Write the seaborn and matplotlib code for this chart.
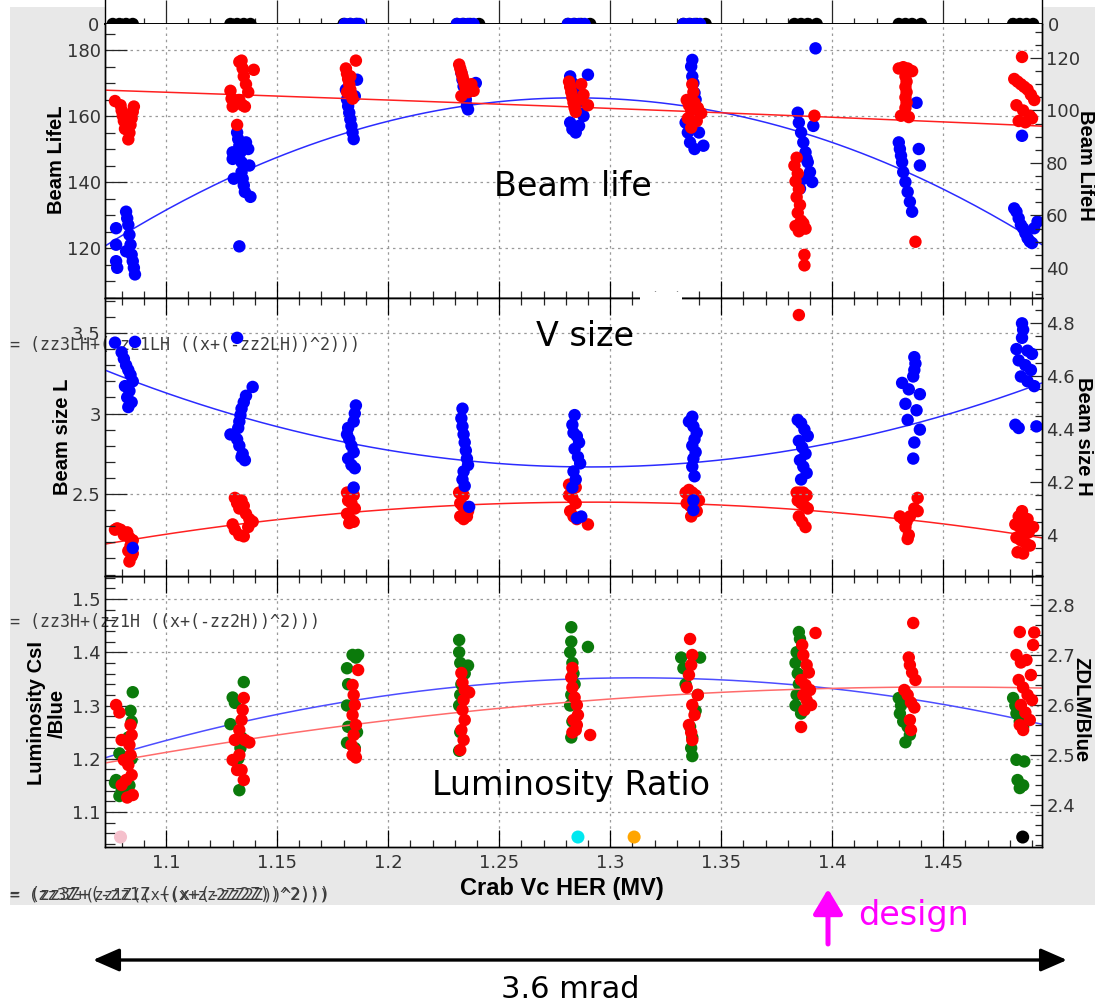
import numpy as np
import pandas as pd
import matplotlib
matplotlib.use("Agg")
import matplotlib.pyplot as plt
import seaborn as sns
from matplotlib.ticker import MultipleLocator, FixedLocator, FuncFormatter
from matplotlib.patches import Rectangle, FancyArrowPatch

sns.set_style("white")
plt.rcParams["font.family"] = ["DejaVu Sans"]
plt.rcParams["xtick.labelsize"] = 13
plt.rcParams["ytick.labelsize"] = 13

# ---------------------------------------------------------------- data
x_ticks = [1.10, 1.15, 1.20, 1.25, 1.30, 1.35, 1.40, 1.45]
x_range = (1.0725, 1.4945)

# entries that read back as zero (top strip)
zero_black_x = [1.0760, 1.0790, 1.0820, 1.0850, 1.1290, 1.1320, 1.1350, 1.1380,
                1.1800, 1.1830, 1.1860, 1.2310, 1.2340, 1.2370, 1.2410,
                1.2810, 1.2840, 1.2870, 1.2910, 1.3330, 1.3360, 1.3390, 1.3430,
                1.3830, 1.3860, 1.3890, 1.3930, 1.4300, 1.4330, 1.4360, 1.4400,
                1.4815, 1.4845, 1.4875, 1.4905]
zero_blue_x = [1.1805, 1.1830, 1.1855, 1.1870, 1.2310, 1.2335, 1.2360, 1.2385,
               1.2810, 1.2835, 1.2860, 1.2885, 1.3330, 1.3355, 1.3380, 1.3405]

# Beam LifeL (blue, left axis)
life_L = [
    (1.0775, 126), (1.0775, 121), (1.0775, 116), (1.0780, 114), (1.0820, 131), (1.0825, 129),
    (1.0830, 127), (1.0835, 124), (1.0840, 121), (1.0845, 118), (1.0850, 116), (1.0855, 114),
    (1.0860, 112), (1.0820, 119),
    (1.1300, 149), (1.1300, 147), (1.1305, 141), (1.1320, 155), (1.1325, 153), (1.1330, 151),
    (1.1335, 149), (1.1340, 146), (1.1340, 143), (1.1345, 141), (1.1350, 139), (1.1355, 137),
    (1.1360, 152), (1.1370, 150), (1.1375, 145), (1.1330, 120.5), (1.1380, 135.5),
    (1.1860, 171), (1.1810, 168), (1.1815, 165), (1.1820, 163), (1.1825, 161), (1.1830, 159),
    (1.1835, 157), (1.1840, 155), (1.1845, 153), (1.1850, 166),
    (1.2330, 173), (1.2335, 171), (1.2340, 169), (1.2345, 167), (1.2350, 165), (1.2355, 163),
    (1.2360, 162), (1.2395, 170),
    (1.2820, 172), (1.2830, 170), (1.2840, 168), (1.2850, 166), (1.2860, 164), (1.2870, 162),
    (1.2880, 160), (1.2900, 172.5), (1.2820, 158), (1.2830, 156), (1.2845, 155), (1.2860, 157),
    (1.3370, 177), (1.3365, 175), (1.3370, 172), (1.3375, 170), (1.3380, 167), (1.3385, 165),
    (1.3390, 162), (1.3340, 158), (1.3350, 155), (1.3360, 152), (1.3380, 150), (1.3400, 155),
    (1.3420, 151),
    (1.3925, 180.5), (1.3845, 161), (1.3850, 158), (1.3860, 155), (1.3870, 152), (1.3880, 149),
    (1.3890, 146), (1.3900, 143), (1.3910, 140), (1.3855, 138), (1.3870, 141), (1.3885, 147),
    (1.3915, 157),
    (1.4380, 164), (1.4300, 152), (1.4305, 150), (1.4310, 148), (1.4315, 146), (1.4320, 143),
    (1.4330, 140), (1.4340, 137), (1.4350, 134), (1.4360, 131), (1.4390, 150), (1.4395, 145),
    (1.4855, 154), (1.4820, 132), (1.4830, 131), (1.4840, 129), (1.4850, 127), (1.4860, 126),
    (1.4870, 124.5), (1.4880, 123), (1.4890, 122), (1.4900, 121.5), (1.4910, 126), (1.4925, 128),
]

# Beam LifeH (red, right axis)
life_H = [
    (1.0770, 103.6), (1.0795, 102), (1.0855, 101.5), (1.0800, 100), (1.0850, 99.5), (1.0805, 98),
    (1.0845, 97), (1.0810, 96), (1.0840, 94.5), (1.0815, 93), (1.0835, 91.5), (1.0830, 89),
    (1.1290, 107.5), (1.1295, 104.5), (1.1300, 101.5), (1.1320, 94.5), (1.1330, 118.5),
    (1.1340, 119), (1.1345, 116), (1.1350, 113), (1.1360, 110), (1.1370, 107), (1.1395, 115.5),
    (1.1330, 104), (1.1345, 102), (1.1355, 101.5),
    (1.1855, 119), (1.1810, 116), (1.1815, 114), (1.1820, 112), (1.1825, 110), (1.1830, 108),
    (1.1835, 106), (1.1840, 104.5), (1.1815, 107), (1.1830, 113),
    (1.2320, 117.5), (1.2325, 116), (1.2330, 114.5), (1.2335, 113), (1.2340, 111.5),
    (1.2345, 110), (1.2350, 108.5), (1.2360, 107), (1.2375, 110), (1.2385, 107.5), (1.2330, 105.5),
    (1.2815, 111), (1.2820, 109), (1.2825, 107), (1.2830, 105), (1.2835, 103), (1.2840, 101),
    (1.2845, 99.5), (1.2870, 110), (1.2880, 106), (1.2900, 102), (1.2860, 104),
    (1.3370, 110), (1.3375, 107), (1.3345, 104), (1.3355, 102), (1.3365, 100), (1.3380, 103),
    (1.3395, 101), (1.3410, 99), (1.3350, 97), (1.3370, 95), (1.3390, 96), (1.3365, 93.5),
    (1.3920, 98), (1.3840, 82), (1.3830, 79), (1.3845, 76), (1.3835, 73), (1.3850, 70),
    (1.3840, 67), (1.3855, 64), (1.3845, 61), (1.3860, 58), (1.3835, 56), (1.3850, 54),
    (1.3870, 57), (1.3880, 55), (1.3875, 45), (1.3875, 41),
    (1.4300, 116), (1.4320, 116.5), (1.4340, 116), (1.4360, 115), (1.4330, 113), (1.4335, 111),
    (1.4330, 109), (1.4335, 107), (1.4330, 105), (1.4335, 103), (1.4330, 101), (1.4310, 98),
    (1.4345, 97.5), (1.4375, 50),
    (1.4855, 120.4), (1.4820, 112), (1.4835, 111), (1.4850, 110), (1.4865, 109), (1.4880, 108),
    (1.4895, 106), (1.4910, 104), (1.4830, 102), (1.4860, 100), (1.4890, 98), (1.4840, 96),
    (1.4870, 95.5), (1.4900, 97),
]

# Beam size L (blue, left axis)
size_L = [
    (1.0770, 3.44), (1.0860, 3.445), (1.0800, 3.38), (1.0810, 3.34), (1.0820, 3.30), (1.0830, 3.27),
    (1.0840, 3.24), (1.0850, 3.20), (1.0815, 3.17), (1.0835, 3.14), (1.0825, 3.10), (1.0845, 3.07),
    (1.0830, 3.04), (1.0850, 2.165),
    (1.1320, 3.47), (1.1390, 3.165), (1.1360, 3.11), (1.1350, 3.07), (1.1340, 3.03), (1.1335, 2.99),
    (1.1330, 2.95), (1.1325, 2.91), (1.1290, 2.87), (1.1320, 2.84), (1.1330, 2.80), (1.1345, 2.75),
    (1.1355, 2.71), (1.1340, 2.73),
    (1.1855, 3.05), (1.1850, 3.00), (1.1845, 2.95), (1.1820, 2.91), (1.1815, 2.87), (1.1825, 2.84),
    (1.1835, 2.80), (1.1845, 2.76), (1.1820, 2.72), (1.1835, 2.68), (1.1850, 2.66), (1.1845, 2.54),
    (1.2335, 3.03), (1.2330, 2.97), (1.2335, 2.92), (1.2340, 2.87), (1.2345, 2.82), (1.2350, 2.77),
    (1.2355, 2.72), (1.2360, 2.68), (1.2340, 2.64), (1.2335, 2.59), (1.2345, 2.55), (1.2365, 2.42),
    (1.2840, 2.99), (1.2830, 2.93), (1.2835, 2.88), (1.2850, 2.86), (1.2860, 2.82), (1.2840, 2.78),
    (1.2855, 2.73), (1.2865, 2.69), (1.2835, 2.64), (1.2845, 2.59), (1.2830, 2.54), (1.2850, 2.35),
    (1.2870, 2.36),
    (1.3370, 2.98), (1.3355, 2.95), (1.3375, 2.92), (1.3390, 2.88), (1.3380, 2.84), (1.3370, 2.80),
    (1.3385, 2.76), (1.3375, 2.72), (1.3370, 2.67), (1.3380, 2.61), (1.3375, 2.46), (1.3375, 2.40),
    (1.3845, 2.96), (1.3860, 2.94), (1.3875, 2.90), (1.3890, 2.86), (1.3850, 2.83), (1.3865, 2.79),
    (1.3880, 2.75), (1.3855, 2.71), (1.3870, 2.67), (1.3885, 2.63), (1.3860, 2.59),
    (1.4370, 3.35), (1.4375, 3.31), (1.4370, 3.27), (1.4365, 3.23), (1.4315, 3.19), (1.4345, 3.15),
    (1.4395, 3.12), (1.4330, 3.06), (1.4380, 3.02), (1.4340, 2.96), (1.4395, 2.90), (1.4370, 2.82),
    (1.4365, 2.72),
    (1.4855, 3.56), (1.4860, 3.52), (1.4855, 3.47), (1.4830, 3.40), (1.4880, 3.39), (1.4900, 3.37),
    (1.4840, 3.33), (1.4870, 3.30), (1.4895, 3.27), (1.4850, 3.23), (1.4880, 3.20), (1.4910, 3.17),
    (1.4825, 2.93), (1.4840, 2.91), (1.4920, 2.92),
]

# Beam size H (red, right axis)
size_H = [
    (1.0770, 4.02), (1.0780, 4.025), (1.0795, 4.02), (1.0810, 4.00), (1.0825, 4.01), (1.0835, 3.99),
    (1.0850, 3.98), (1.0840, 3.96), (1.0830, 3.94), (1.0845, 3.92), (1.0835, 3.90), (1.0850, 3.93),
    (1.1310, 4.14), (1.1320, 4.12), (1.1330, 4.10), (1.1340, 4.13), (1.1350, 4.11), (1.1360, 4.08),
    (1.1375, 4.06), (1.1390, 4.05), (1.1300, 4.04), (1.1310, 4.02), (1.1330, 4.00), (1.1350, 3.995),
    (1.1370, 4.03),
    (1.1815, 4.16), (1.1830, 4.16), (1.1845, 4.15), (1.1820, 4.13), (1.1835, 4.12), (1.1850, 4.10),
    (1.1815, 4.08), (1.1830, 4.06), (1.1845, 4.05), (1.1825, 4.045),
    (1.2320, 4.16), (1.2330, 4.16), (1.2340, 4.15), (1.2325, 4.12), (1.2335, 4.11), (1.2345, 4.10),
    (1.2360, 4.09), (1.2325, 4.07), (1.2340, 4.06), (1.2355, 4.07),
    (1.2815, 4.19), (1.2830, 4.19), (1.2845, 4.18), (1.2815, 4.15), (1.2830, 4.14), (1.2845, 4.12),
    (1.2820, 4.09), (1.2835, 4.07), (1.2850, 4.06), (1.2900, 4.04),
    (1.3340, 4.16), (1.3355, 4.17), (1.3370, 4.16), (1.3385, 4.15), (1.3400, 4.13), (1.3345, 4.12),
    (1.3360, 4.11), (1.3375, 4.10), (1.3390, 4.09), (1.3365, 4.07),
    (1.3850, 4.83), (1.3840, 4.16), (1.3855, 4.16), (1.3870, 4.16), (1.3885, 4.15), (1.3845, 4.13),
    (1.3860, 4.12), (1.3875, 4.11), (1.3890, 4.10), (1.3850, 4.07), (1.3865, 4.05), (1.3880, 4.03),
    (1.4385, 4.14), (1.4370, 4.10), (1.4385, 4.09), (1.4305, 4.07), (1.4320, 4.06), (1.4335, 4.05),
    (1.4350, 4.07), (1.4330, 4.03), (1.4345, 4.00), (1.4340, 3.985),
    (1.4855, 4.09), (1.4840, 4.07), (1.4860, 4.065), (1.4880, 4.06), (1.4825, 4.04), (1.4845, 4.03),
    (1.4865, 4.02), (1.4885, 4.01), (1.4905, 4.03), (1.4830, 3.99), (1.4850, 3.98), (1.4870, 3.97),
    (1.4890, 3.96), (1.4835, 3.935), (1.4860, 3.93),
]

# Luminosity CsI/Blue (green, left axis)
lum_csi = [
    (1.0850, 1.325), (1.0840, 1.29), (1.0845, 1.27), (1.0830, 1.24), (1.0790, 1.21), (1.0775, 1.16),
    (1.0770, 1.155), (1.0800, 1.14), (1.0835, 1.15), (1.0790, 1.13), (1.0845, 1.20),
    (1.1350, 1.344), (1.1300, 1.315), (1.1310, 1.305), (1.1290, 1.265), (1.1340, 1.24),
    (1.1335, 1.22), (1.1325, 1.20), (1.1330, 1.141),
    (1.1840, 1.395), (1.1855, 1.39), (1.1865, 1.395), (1.1815, 1.37), (1.1820, 1.34),
    (1.1815, 1.30), (1.1820, 1.26), (1.1815, 1.23), (1.1850, 1.22), (1.1860, 1.25),
    (1.2320, 1.423), (1.2320, 1.40), (1.2325, 1.38), (1.2345, 1.36), (1.2360, 1.375),
    (1.2330, 1.34), (1.2325, 1.32), (1.2320, 1.30), (1.2325, 1.25), (1.2320, 1.215),
    (1.2825, 1.447), (1.2825, 1.42), (1.2820, 1.40), (1.2830, 1.38), (1.2835, 1.36),
    (1.2900, 1.41), (1.2840, 1.34), (1.2825, 1.32), (1.2820, 1.30), (1.2830, 1.27), (1.2825, 1.24),
    (1.3320, 1.39), (1.3405, 1.39), (1.3330, 1.37), (1.3340, 1.34), (1.3395, 1.32),
    (1.3385, 1.29), (1.3360, 1.26), (1.3370, 1.24), (1.3365, 1.22), (1.3370, 1.205),
    (1.3850, 1.438), (1.3855, 1.425), (1.3840, 1.40), (1.3835, 1.38), (1.3845, 1.36),
    (1.3850, 1.34), (1.3840, 1.32), (1.3835, 1.30), (1.3860, 1.285),
    (1.4300, 1.314), (1.4310, 1.30), (1.4330, 1.31), (1.4305, 1.285), (1.4320, 1.27),
    (1.4340, 1.26), (1.4350, 1.245), (1.4330, 1.231),
    (1.4815, 1.314), (1.4825, 1.30), (1.4830, 1.285), (1.4845, 1.27), (1.4860, 1.26),
    (1.4830, 1.198), (1.4865, 1.195), (1.4835, 1.16), (1.4845, 1.145), (1.4860, 1.15),
]

# ZDLM/Blue (red, right axis)
lum_zdlm = [
    (1.0775, 2.60), (1.0790, 2.585), (1.0840, 2.56), (1.0845, 2.54), (1.0835, 2.52), (1.0840, 2.50),
    (1.0800, 2.53), (1.0810, 2.49), (1.0830, 2.48), (1.0845, 2.46), (1.0820, 2.45), (1.0800, 2.44),
    (1.0850, 2.42), (1.0825, 2.415),
    (1.1350, 2.614), (1.1345, 2.59), (1.1340, 2.57), (1.1330, 2.55), (1.1310, 2.53), (1.1355, 2.53),
    (1.1375, 2.525), (1.1300, 2.49), (1.1320, 2.47), (1.1340, 2.47), (1.1350, 2.45), (1.1330, 2.50),
    (1.1865, 2.67), (1.1840, 2.64), (1.1845, 2.62), (1.1850, 2.60), (1.1840, 2.58), (1.1855, 2.56),
    (1.1845, 2.54), (1.1835, 2.52), (1.1850, 2.51), (1.1840, 2.50), (1.1855, 2.495),
    (1.2330, 2.664), (1.2335, 2.645), (1.2345, 2.63), (1.2365, 2.625), (1.2340, 2.61),
    (1.2335, 2.59), (1.2345, 2.57), (1.2330, 2.55), (1.2340, 2.53), (1.2325, 2.51),
    (1.2830, 2.674), (1.2825, 2.655), (1.2830, 2.635), (1.2840, 2.615), (1.2850, 2.60),
    (1.2855, 2.58), (1.2835, 2.57), (1.2845, 2.55), (1.2830, 2.545), (1.2850, 2.56), (1.2910, 2.54),
    (1.3360, 2.732), (1.3370, 2.70), (1.3365, 2.68), (1.3355, 2.66), (1.3345, 2.635),
    (1.3395, 2.62), (1.3370, 2.60), (1.3380, 2.58), (1.3355, 2.56), (1.3365, 2.545), (1.3370, 2.53),
    (1.3925, 2.744), (1.3865, 2.72), (1.3870, 2.70), (1.3885, 2.68), (1.3895, 2.665),
    (1.3860, 2.65), (1.3880, 2.64), (1.3900, 2.63), (1.3870, 2.62), (1.3885, 2.61),
    (1.3905, 2.60), (1.3875, 2.59), (1.3860, 2.556),
    (1.4365, 2.764), (1.4345, 2.695), (1.4350, 2.68), (1.4360, 2.665), (1.4375, 2.65),
    (1.4325, 2.63), (1.4340, 2.62), (1.4355, 2.605), (1.4370, 2.595), (1.4350, 2.57), (1.4355, 2.55),
    (1.4845, 2.746), (1.4910, 2.745), (1.4905, 2.72), (1.4830, 2.70), (1.4850, 2.685),
    (1.4875, 2.69), (1.4895, 2.66), (1.4840, 2.65), (1.4860, 2.635), (1.4880, 2.62),
    (1.4900, 2.61), (1.4850, 2.60), (1.4870, 2.585), (1.4890, 2.57), (1.4845, 2.56), (1.4860, 2.55),
]

# single markers along the bottom of the luminosity panel
mark_x = [1.0795, 1.2855, 1.3108, 1.4858]
mark_y = [1.053, 1.053, 1.053, 1.053]
mark_colors = ["#f5c0cc", "#00e8f0", "#ffa500", "#000000"]

# quadratic fits  zz3 + (-zz1 ((x + (-zz2))^2))  as (zz1, zz2, zz3)
fit_life_L = (1004.0, 1.284, 165.5)
fit_life_H = (10.0, -0.34, 127.7)
fit_size_L = (-12.6, 1.291, 2.668)
fit_size_H = (3.285, 1.292, 4.124)
fit_lum_csi = (2.619, 1.312, 1.352)
fit_lum_zdlm = (1.067, 1.45, 2.636)

# ---------------------------------------------------------------- figure
W, H = 1095, 1006
fig = plt.figure(figsize=(W / 100, H / 100), dpi=100)


def fx(px):
    return px / W


def fy(py):
    return 1 - py / H


def box(top, bottom, left=105, right=1042):
    return [fx(left), fy(bottom), (right - left) / W, (bottom - top) / H]


fig.add_artist(Rectangle((fx(10), fy(905)), 1085 / W, 898 / H, transform=fig.transFigure,
                         facecolor="#e8e8e8", edgecolor="none", zorder=-1))

ax0 = fig.add_axes(box(0, 24))
ax1 = fig.add_axes(box(24, 298))
ax2 = fig.add_axes(box(298, 576))
ax3 = fig.add_axes(box(576, 847))
ax1r, ax2r, ax3r = ax1.twinx(), ax2.twinx(), ax3.twinx()

# blue above red in the beam-size panel
ax2r.set_zorder(1)
ax2.set_zorder(2)
ax2.patch.set_visible(False)
ax2r.patch.set_visible(True)
ax2r.patch.set_facecolor("white")

BLUE, RED, GREEN = "#0000ff", "#ff0000", "#0b7a0b"
DOT = 80
fmt = FuncFormatter(lambda v, _: f"{v:g}")


def dots(ax, pairs, color, z=2, clip=True):
    df = pd.DataFrame(pairs, columns=["crab_vc", "value"])
    sns.scatterplot(data=df, x="crab_vc", y="value", ax=ax, color=color, s=DOT,
                    linewidth=0, edgecolor="none", zorder=z, legend=False, clip_on=clip)


def fit_line(ax, params, color):
    zz1, zz2, zz3 = params
    xs = np.linspace(x_range[0], x_range[1], 240)
    ys = zz3 + (-zz1 * ((xs + (-zz2)) ** 2))
    sns.lineplot(x=xs, y=ys, ax=ax, color=color, lw=1.1, zorder=1.5, estimator=None, sort=False)


# zero strip
dots(ax0, list(zip(zero_black_x, np.zeros(len(zero_black_x)))), "black", clip=False)
dots(ax0, list(zip(zero_blue_x, np.zeros(len(zero_blue_x)))), BLUE, z=3, clip=False)

# beam life
fit_line(ax1, fit_life_L, "#2b2bff")
dots(ax1, life_L, BLUE)
fit_line(ax1r, fit_life_H, "#ff2020")
dots(ax1r, life_H, RED)

# beam size
fit_line(ax2, fit_size_L, "#2b2bff")
dots(ax2, size_L, BLUE)
fit_line(ax2r, fit_size_H, "#ff2020")
dots(ax2r, size_H, RED)

# luminosity ratio
fit_line(ax3, fit_lum_csi, "#4d4dff")
dots(ax3, lum_csi, GREEN)
fit_line(ax3r, fit_lum_zdlm, "#ff6b6b")
dots(ax3r, lum_zdlm, RED)
sns.scatterplot(x=mark_x, y=mark_y, ax=ax3, hue=mark_colors, palette={c: c for c in mark_colors},
                s=DOT * 1.1, linewidth=0, legend=False, zorder=3)

# ---------------------------------------------------------------- axes styling
LW = 0.9
for ax in (ax0, ax1, ax2, ax3, ax1r, ax2r, ax3r):
    ax.set_xlim(x_range)
    ax.set_xlabel("")
    ax.set_ylabel("")
    for s in ax.spines.values():
        s.set_color("black")
        s.set_linewidth(1.0)

for ax in (ax1, ax2, ax3):
    ax.xaxis.set_major_locator(FixedLocator(x_ticks))
    ax.xaxis.set_minor_locator(MultipleLocator(0.01))
    ax.xaxis.set_major_formatter(fmt)
    ax.tick_params(axis="x", which="major", direction="in", length=12, width=LW,
                   top=True, bottom=True, labelbottom=False, labeltop=False, color="black")
    ax.tick_params(axis="x", which="minor", direction="in", length=5, width=LW,
                   top=True, bottom=True)
    ax.grid(True, which="major", axis="both", linestyle=(0, (2, 3)), color="#9a9a9a", lw=0.9)
    ax.set_axisbelow(True)

ax1.tick_params(axis="x", which="both", top=False)
ax1.spines["top"].set_visible(False)
ax1r.spines["top"].set_visible(False)
ax3.tick_params(axis="x", labelbottom=True, pad=5, labelcolor="#333333")

for axr in (ax1r, ax2r, ax3r):
    axr.tick_params(axis="x", which="both", bottom=False, top=False, labelbottom=False)
    axr.grid(False)

# strip with the zero line
ax0.set_ylim(0, 1)
ax0.spines["top"].set_visible(False)
ax0.spines["bottom"].set_linewidth(1.4)
ax0.xaxis.set_major_locator(FixedLocator(x_ticks))
ax0.xaxis.set_minor_locator(MultipleLocator(0.01))
ax0.tick_params(axis="x", which="major", direction="in", length=17, width=LW,
                bottom=True, top=False, labelbottom=False)
ax0.tick_params(axis="x", which="minor", direction="in", length=4.5, width=LW,
                bottom=True, top=False)
ax0.set_yticks([0])
ax0.set_yticklabels(["0"])
ax0.tick_params(axis="y", length=0, left=True, right=True, labelleft=True, labelright=True,
                labelcolor="#333333", pad=4)
ax0.grid(False)


def style_y(ax, lim, major, minor, side):
    ax.set_ylim(lim)
    ax.yaxis.set_major_locator(FixedLocator(major))
    ax.yaxis.set_minor_locator(MultipleLocator(minor))
    ax.yaxis.set_major_formatter(fmt)
    if side == "left":
        ax.tick_params(axis="y", which="major", direction="in", length=16, width=LW,
                       left=True, right=False, labelleft=True, labelright=False,
                       labelcolor="#333333", pad=3)
        ax.tick_params(axis="y", which="minor", direction="in", length=7, width=LW,
                       left=True, right=False)
    else:
        ax.tick_params(axis="y", which="major", direction="in", length=9, width=LW,
                       left=False, right=True, labelleft=False, labelright=True,
                       labelcolor="#333333", pad=3)
        ax.tick_params(axis="y", which="minor", direction="in", length=5, width=LW,
                       left=False, right=True)


style_y(ax1, (104.85, 187.88), [120, 140, 160, 180], 5, "left")
style_y(ax1r, (28.57, 132.95), [40, 60, 80, 100, 120], 5, "right")
style_y(ax2, (1.9907, 3.7174), [2.5, 3.0, 3.5], 0.1, "left")
style_y(ax2r, (3.8453, 4.8943), [4.0, 4.2, 4.4, 4.6, 4.8], 0.05, "right")
style_y(ax3, (1.0343, 1.5432), [1.1, 1.2, 1.3, 1.4, 1.5], 0.02, "left")
style_y(ax3r, (2.316, 2.858), [2.4, 2.5, 2.6, 2.7, 2.8], 0.02, "right")

# ---------------------------------------------------------------- fit formulas
MONO = dict(family="DejaVu Sans Mono", size=12, color="#3c3c3c", ha="left", va="center")
ax2.text(fx(10), fy(345), "= (zz3LH+(-zz1LH ((x+(-zz2LH))^2)))", transform=fig.transFigure,
         zorder=0.6, clip_on=False, **MONO)
ax3.text(fx(10), fy(622), "= (zz3H+(zz1H ((x+(-zz2H))^2)))", transform=fig.transFigure,
         zorder=0.6, clip_on=False, **MONO)
fig.text(fx(10), fy(895), "= (zz3Z+(-zz1Z ((x+(-zz2Z))^2)))", **MONO)
fig.text(fx(10), fy(895), "= (zz3Z+(zz1Z((x+(x+zz2ZZ2Z))^2)))",
         **{**MONO, "size": 11.2})

# ---------------------------------------------------------------- labels
LAB = dict(family="Liberation Sans", weight="bold", size=14.5, color="black",
           ha="center", va="center")
fig.text(fx(57), fy(160), "Beam LifeL", rotation=90, **LAB)
fig.text(fx(1086), fy(165), "Beam LifeH", rotation=270, **LAB)
fig.text(fx(62), fy(437), "Beam size L", rotation=90, **LAB)
fig.text(fx(1083), fy(436), "Beam size H", rotation=270, **LAB)
fig.text(fx(47), fy(713), "Luminosity CsI\n/Blue", rotation=90, multialignment="center",
         linespacing=1.15, **LAB)
fig.text(fx(1081), fy(710), "ZDLM/Blue", rotation=270, **LAB)
fig.text(fx(562), fy(888), "Crab Vc HER (MV)", **{**LAB, "size": 17})

BIG = dict(size=24, color="black", ha="center", va="center")
fig.text(fx(573), fy(187), "Beam life", **BIG)
fig.text(fx(585), fy(337), "V size", **BIG)
fig.text(fx(571), fy(786), "Luminosity Ratio", **BIG)

# gap in the frame under the "V size" label
fig.add_artist(Rectangle((fx(640), fy(306)), 42 / W, 14 / H, transform=fig.transFigure,
                         facecolor="white", edgecolor="none", zorder=5))

# design marker and crossing-angle span
fig.add_artist(FancyArrowPatch((fx(828), fy(944)), (fx(828), fy(889)), transform=fig.transFigure,
                               arrowstyle="-|>,head_length=0.75,head_width=0.45",
                               mutation_scale=20, lw=3.6, color="#ff00ff",
                               shrinkA=0, shrinkB=0, zorder=6))
fig.text(fx(858), fy(916), "design", color="#ff00ff", size=24, ha="left", va="center")

fig.add_artist(FancyArrowPatch((fx(93), fy(960)), (fx(1067), fy(960)), transform=fig.transFigure,
                               arrowstyle="<|-|>,head_length=0.8,head_width=0.35",
                               mutation_scale=20, lw=2.4, color="black",
                               shrinkA=0, shrinkB=0, zorder=6))
fig.text(fx(570), fy(990), "3.6 mrad", size=22, color="black", ha="center", va="center")

fig.savefig("out.png", dpi=100)
